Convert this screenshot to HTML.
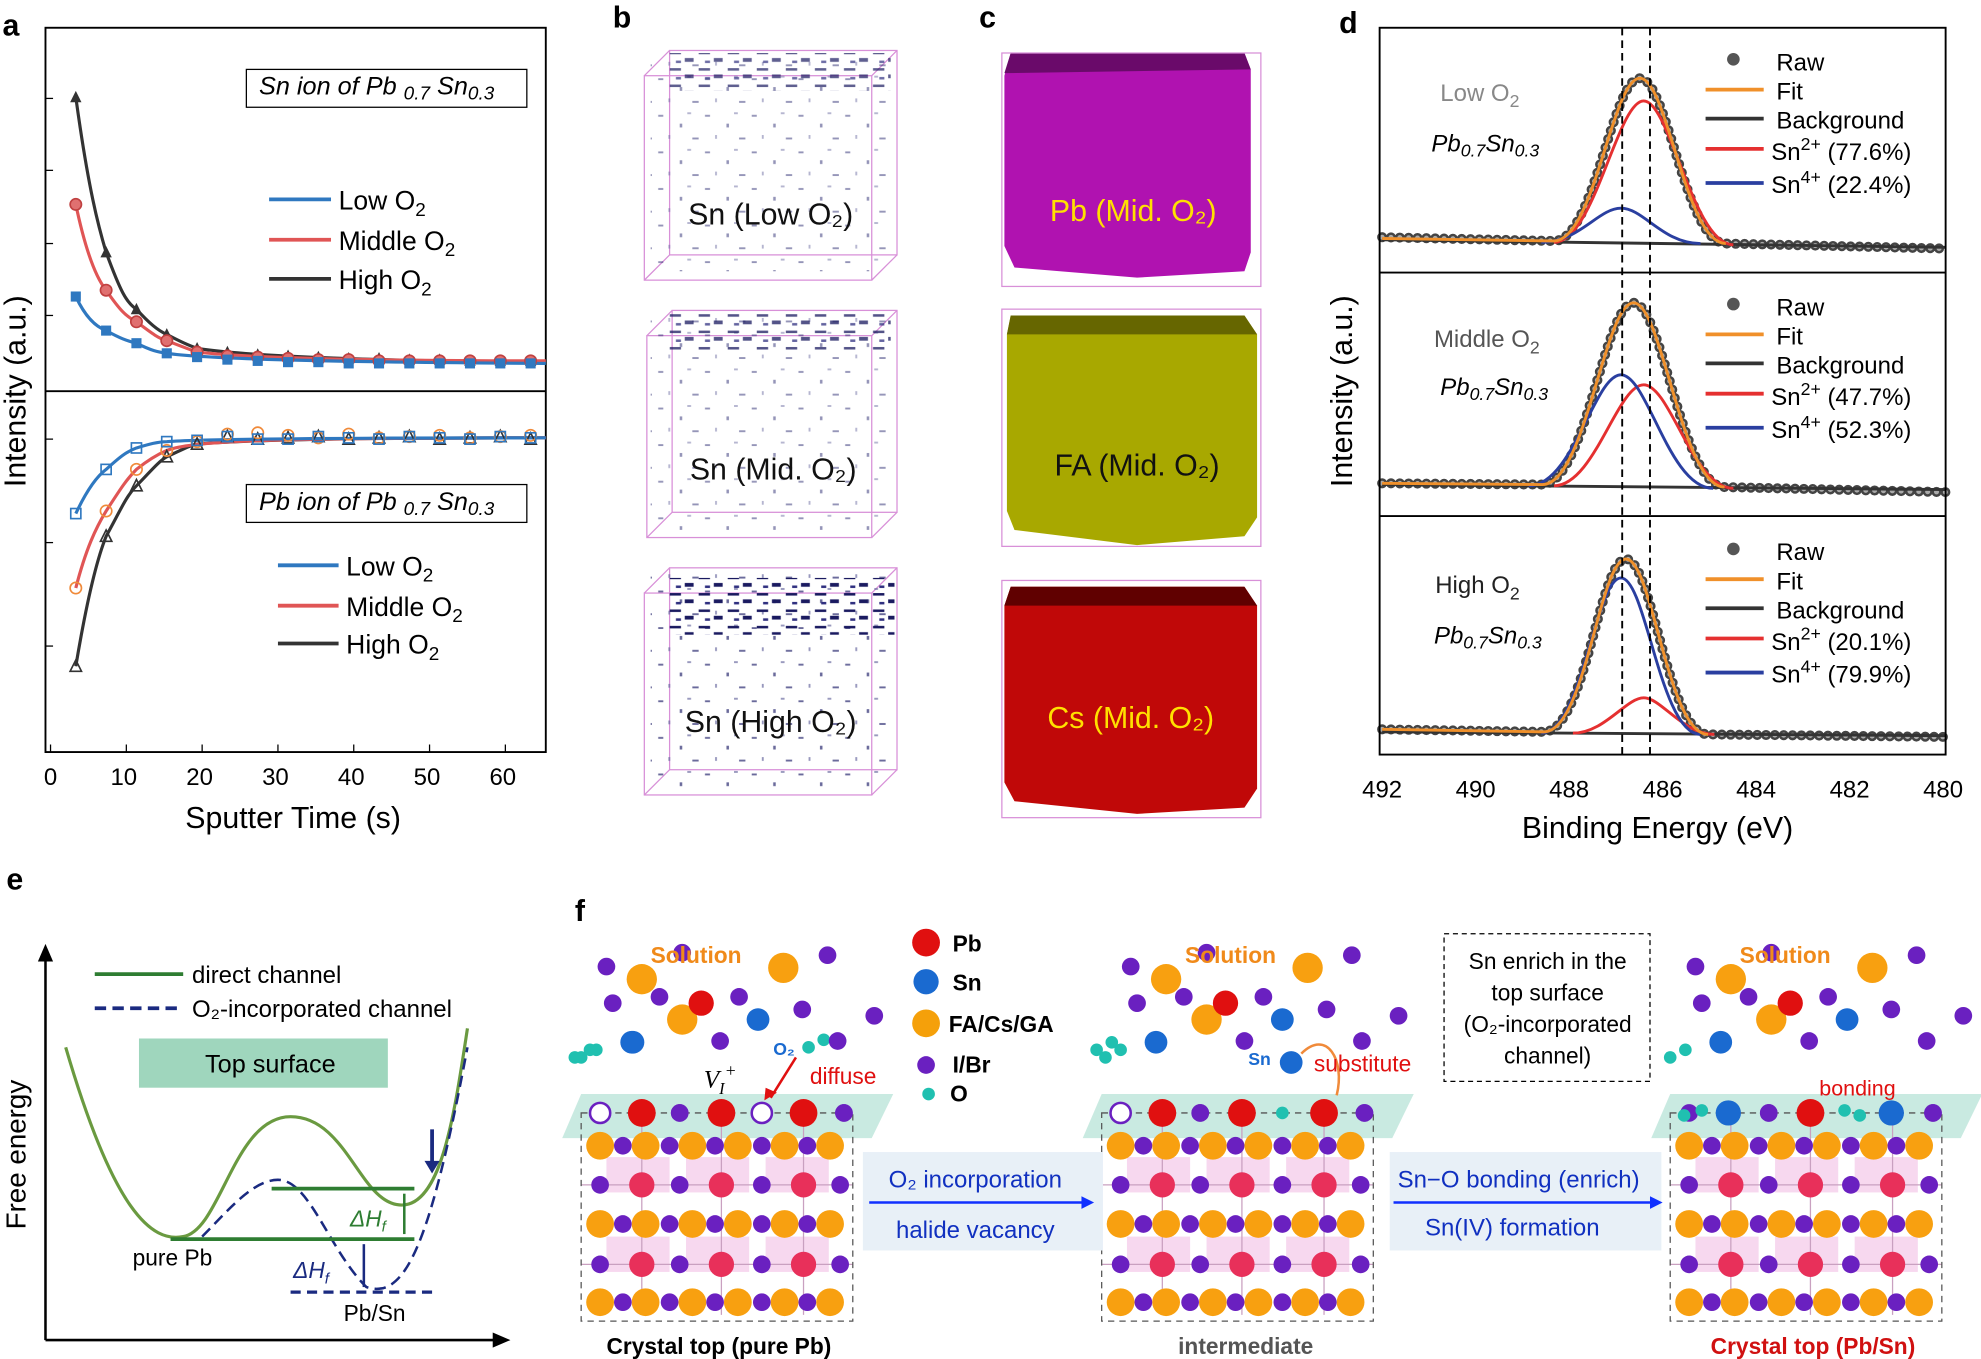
<!DOCTYPE html>
<html><head><meta charset="utf-8"><style>
html,body{margin:0;padding:0;background:#fff;}
svg{display:block;font-family:"Liberation Sans",sans-serif;}
</style></head><body>
<svg width="1981" height="1359" viewBox="0 0 1568 1077" preserveAspectRatio="none" xmlns="http://www.w3.org/2000/svg" xmlns:xlink="http://www.w3.org/1999/xlink">
<defs>
<rect id="sqb" x="-4" y="-4" width="8" height="8" fill="#2f78c0"/>
<circle id="cr" r="4.5" fill="#e07070" stroke="#c04040" stroke-width="1.3"/>
<polygon id="tk" points="-4.5,4 4.5,4 0,-5" fill="#333"/>
<rect id="sqo" x="-4" y="-4" width="8" height="8" fill="none" stroke="#2f78c0" stroke-width="1.3"/>
<circle id="co" r="4.5" fill="none" stroke="#f08a3a" stroke-width="1.3"/>
<polygon id="to" points="-4.5,4 4.5,4 0,-5" fill="none" stroke="#333" stroke-width="1.3"/>
<pattern id="dots" width="37" height="29" patternUnits="userSpaceOnUse">
<rect x="3" y="4" width="4" height="1.5" fill="#2a2a70"/><rect x="20" y="11" width="2" height="3" fill="#2a2a70"/><rect x="30" y="22" width="5" height="1.5" fill="#2a2a70"/><rect x="11" y="20" width="1.5" height="3" fill="#6a6aa0"/><rect x="26" y="2" width="3" height="1.5" fill="#6a6aa0"/>
</pattern>
<pattern id="dense" width="23" height="13" patternUnits="userSpaceOnUse">
<rect x="1" y="2" width="9" height="2" fill="#1a1a60"/><rect x="13" y="7" width="7" height="3" fill="#1a1a60"/><rect x="6" y="9" width="4" height="2" fill="#303080"/>
</pattern>
<g id="lat">
<rect x="20" y="35" width="50" height="28" fill="#f7d8ef"/><rect x="83" y="35" width="50" height="28" fill="#f7d8ef"/><rect x="146" y="35" width="50" height="28" fill="#f7d8ef"/>
<rect x="20" y="98" width="50" height="28" fill="#f7d8ef"/><rect x="83" y="98" width="50" height="28" fill="#f7d8ef"/><rect x="146" y="98" width="50" height="28" fill="#f7d8ef"/>
<g stroke="#c9a0c0" stroke-width="1"><line x1="48" y1="0" x2="48" y2="160"/><line x1="111" y1="0" x2="111" y2="160"/><line x1="176" y1="0" x2="176" y2="160"/><line x1="0" y1="57" x2="215" y2="57"/><line x1="0" y1="120" x2="215" y2="120"/></g>
<rect x="0" y="0" width="215" height="165" fill="none" stroke="#555" stroke-dasharray="5,4"/>
<g fill="#f8a010"><circle cx="15" cy="26" r="11"/><circle cx="51" cy="26" r="11"/><circle cx="88" cy="26" r="11"/><circle cx="124" cy="26" r="11"/><circle cx="161" cy="26" r="11"/><circle cx="197" cy="26" r="11"/>
<circle cx="15" cy="88" r="11"/><circle cx="51" cy="88" r="11"/><circle cx="88" cy="88" r="11"/><circle cx="124" cy="88" r="11"/><circle cx="161" cy="88" r="11"/><circle cx="197" cy="88" r="11"/>
<circle cx="15" cy="150" r="11"/><circle cx="51" cy="150" r="11"/><circle cx="88" cy="150" r="11"/><circle cx="124" cy="150" r="11"/><circle cx="161" cy="150" r="11"/><circle cx="197" cy="150" r="11"/></g>
<g fill="#6a20c0"><circle cx="33" cy="26" r="7"/><circle cx="70" cy="26" r="7"/><circle cx="106" cy="26" r="7"/><circle cx="143" cy="26" r="7"/><circle cx="179" cy="26" r="7"/>
<circle cx="33" cy="88" r="7"/><circle cx="70" cy="88" r="7"/><circle cx="106" cy="88" r="7"/><circle cx="143" cy="88" r="7"/><circle cx="179" cy="88" r="7"/>
<circle cx="33" cy="150" r="7"/><circle cx="70" cy="150" r="7"/><circle cx="106" cy="150" r="7"/><circle cx="143" cy="150" r="7"/><circle cx="179" cy="150" r="7"/>
<circle cx="15" cy="57" r="7"/><circle cx="78" cy="57" r="7"/><circle cx="143" cy="57" r="7"/><circle cx="205" cy="57" r="7"/>
<circle cx="15" cy="120" r="7"/><circle cx="78" cy="120" r="7"/><circle cx="143" cy="120" r="7"/><circle cx="205" cy="120" r="7"/>
<circle cx="78" cy="0" r="7"/><circle cx="208" cy="0" r="7"/></g>
<g fill="#e8305a"><circle cx="48" cy="57" r="10"/><circle cx="111" cy="57" r="10"/><circle cx="176" cy="57" r="10"/><circle cx="48" cy="120" r="10"/><circle cx="111" cy="120" r="10"/><circle cx="176" cy="120" r="10"/></g>
</g>
<g id="sol">
<g fill="#f8a010"><circle cx="48" cy="776" r="12"/><circle cx="160" cy="767" r="12"/><circle cx="80" cy="808" r="12"/></g>
<g fill="#6a20c0"><circle cx="20" cy="766" r="7"/><circle cx="80" cy="755" r="7"/><circle cx="125" cy="790" r="7"/><circle cx="195" cy="757" r="7"/><circle cx="62" cy="790" r="7"/><circle cx="175" cy="800" r="7"/><circle cx="25" cy="795" r="7"/><circle cx="110" cy="825" r="7"/><circle cx="203" cy="825" r="7"/><circle cx="232" cy="805" r="7"/></g>
<circle cx="95" cy="795" r="10" fill="#e01010"/>
<circle cx="140" cy="808" r="9" fill="#1a6ad0"/><circle cx="40" cy="826" r="9" fill="#1a6ad0"/>
<g fill="#20c0b0"><circle cx="0" cy="838" r="5"/><circle cx="12" cy="832" r="5"/></g>
</g>
</defs>
<g font-weight="bold" font-size="24"><text x="2" y="28">a</text><text x="485" y="22">b</text><text x="775" y="22">c</text><text x="1060" y="26">d</text><text x="5" y="705">e</text><text x="455" y="730">f</text></g>
<!-- panel a -->
<rect x="36" y="22" width="396" height="574" fill="none" stroke="#000" stroke-width="1.5"/>
<line x1="36" y1="310" x2="432" y2="310" stroke="#000" stroke-width="1.5"/>
<g stroke="#000"><line x1="40" y1="596" x2="40" y2="590"/><line x1="100" y1="596" x2="100" y2="590"/><line x1="160" y1="596" x2="160" y2="590"/><line x1="220" y1="596" x2="220" y2="590"/><line x1="280" y1="596" x2="280" y2="590"/><line x1="340" y1="596" x2="340" y2="590"/><line x1="400" y1="596" x2="400" y2="590"/>
<line x1="36" y1="78" x2="42" y2="78"/><line x1="36" y1="135" x2="42" y2="135"/><line x1="36" y1="193" x2="42" y2="193"/><line x1="36" y1="250" x2="42" y2="250"/>
<line x1="36" y1="348" x2="42" y2="348"/><line x1="36" y1="430" x2="42" y2="430"/><line x1="36" y1="512" x2="42" y2="512"/></g>
<g font-size="19" text-anchor="middle"><text x="40" y="622">0</text><text x="98" y="622">10</text><text x="158" y="622">20</text><text x="218" y="622">30</text><text x="278" y="622">40</text><text x="338" y="622">50</text><text x="398" y="622">60</text></g>
<text x="232" y="656" font-size="24" text-anchor="middle">Sputter Time (s)</text>
<text transform="translate(20,310) rotate(-90)" font-size="24" text-anchor="middle">Intensity (a.u.)</text>
<rect x="195" y="55" width="222" height="30" fill="#fff" stroke="#000"/>
<text x="205" y="75" font-size="20" font-style="italic">Sn ion of Pb <tspan font-size="15" dy="4">0.7</tspan><tspan dy="-4"> Sn</tspan><tspan font-size="15" dy="4">0.3</tspan></text>
<rect x="195" y="384" width="222" height="30" fill="#fff" stroke="#000"/>
<text x="205" y="404" font-size="20" font-style="italic">Pb ion of Pb <tspan font-size="15" dy="4">0.7</tspan><tspan dy="-4"> Sn</tspan><tspan font-size="15" dy="4">0.3</tspan></text>
<g font-size="21">
<line x1="213" y1="158" x2="262" y2="158" stroke="#2f78c0" stroke-width="3"/><text x="268" y="166">Low O<tspan font-size="15" dy="5">2</tspan></text>
<line x1="213" y1="190" x2="262" y2="190" stroke="#e05555" stroke-width="3"/><text x="268" y="198">Middle O<tspan font-size="15" dy="5">2</tspan></text>
<line x1="213" y1="221" x2="262" y2="221" stroke="#333" stroke-width="3"/><text x="268" y="229">High O<tspan font-size="15" dy="5">2</tspan></text>
<line x1="220" y1="448" x2="268" y2="448" stroke="#2f78c0" stroke-width="3"/><text x="274" y="456">Low O<tspan font-size="15" dy="5">2</tspan></text>
<line x1="220" y1="480" x2="268" y2="480" stroke="#e05555" stroke-width="3"/><text x="274" y="488">Middle O<tspan font-size="15" dy="5">2</tspan></text>
<line x1="220" y1="510" x2="268" y2="510" stroke="#333" stroke-width="3"/><text x="274" y="518">High O<tspan font-size="15" dy="5">2</tspan></text>
</g>
<g fill="none" stroke-width="2.5">
<path d="M60,77 C70,150 78,180 84,200 C95,230 100,240 108,245 C118,256 125,262 132,265 C145,272 150,274 156,276 C200,283 300,286 432,287" stroke="#333"/>
<path d="M60,162 C68,200 76,220 84,230 C95,246 100,251 108,255 C120,264 125,268 132,270 C145,275 150,277 156,279 C200,284 300,286 432,286" stroke="#e05555"/>
<path d="M60,235 C68,252 76,259 84,262 C95,268 100,270 108,272 C120,278 125,279 132,280 C160,284 250,287 432,288" stroke="#2f78c0"/>
<path d="M60,528 C68,480 76,445 84,425 C95,405 100,393 108,385 C118,375 125,366 132,362 C145,356 150,353 156,352 C200,348 300,347 432,347" stroke="#333"/>
<path d="M60,466 C68,435 76,418 84,405 C95,388 100,380 108,372 C118,364 125,360 132,357 C150,350 200,347 432,347" stroke="#e05555"/>
<path d="M60,407 C68,390 76,378 84,372 C95,362 100,358 108,355 C118,352 125,350 132,350 C160,348 250,347 432,347" stroke="#2f78c0"/>
</g>
<use xlink:href="#tk" x="60" y="77"/><use xlink:href="#tk" x="84" y="200"/><use xlink:href="#tk" x="108" y="245"/><use xlink:href="#tk" x="132" y="265"/><use xlink:href="#tk" x="156" y="276"/><use xlink:href="#tk" x="180" y="279"/><use xlink:href="#tk" x="204" y="281"/><use xlink:href="#tk" x="228" y="282"/><use xlink:href="#tk" x="252" y="283"/><use xlink:href="#tk" x="276" y="284"/><use xlink:href="#tk" x="300" y="284"/><use xlink:href="#tk" x="324" y="285"/><use xlink:href="#tk" x="348" y="285"/><use xlink:href="#tk" x="372" y="286"/><use xlink:href="#tk" x="396" y="286"/><use xlink:href="#tk" x="420" y="286"/>
<use xlink:href="#cr" x="60" y="162"/><use xlink:href="#cr" x="84" y="230"/><use xlink:href="#cr" x="108" y="255"/><use xlink:href="#cr" x="132" y="270"/><use xlink:href="#cr" x="156" y="279"/><use xlink:href="#cr" x="180" y="282"/><use xlink:href="#cr" x="204" y="283"/><use xlink:href="#cr" x="228" y="284"/><use xlink:href="#cr" x="252" y="285"/><use xlink:href="#cr" x="276" y="285"/><use xlink:href="#cr" x="300" y="286"/><use xlink:href="#cr" x="324" y="286"/><use xlink:href="#cr" x="348" y="286"/><use xlink:href="#cr" x="372" y="286"/><use xlink:href="#cr" x="396" y="286"/><use xlink:href="#cr" x="420" y="286"/>
<use xlink:href="#sqb" x="60" y="235"/><use xlink:href="#sqb" x="84" y="262"/><use xlink:href="#sqb" x="108" y="272"/><use xlink:href="#sqb" x="132" y="280"/><use xlink:href="#sqb" x="156" y="283"/><use xlink:href="#sqb" x="180" y="285"/><use xlink:href="#sqb" x="204" y="286"/><use xlink:href="#sqb" x="228" y="287"/><use xlink:href="#sqb" x="252" y="287"/><use xlink:href="#sqb" x="276" y="288"/><use xlink:href="#sqb" x="300" y="288"/><use xlink:href="#sqb" x="324" y="288"/><use xlink:href="#sqb" x="348" y="288"/><use xlink:href="#sqb" x="372" y="288"/><use xlink:href="#sqb" x="396" y="288"/><use xlink:href="#sqb" x="420" y="288"/>
<use xlink:href="#to" x="60" y="528"/><use xlink:href="#to" x="84" y="425"/><use xlink:href="#to" x="108" y="385"/><use xlink:href="#to" x="132" y="362"/><use xlink:href="#to" x="156" y="352"/><use xlink:href="#to" x="180" y="346"/><use xlink:href="#to" x="204" y="348"/><use xlink:href="#to" x="228" y="347"/><use xlink:href="#to" x="252" y="346"/><use xlink:href="#to" x="276" y="348"/><use xlink:href="#to" x="300" y="347"/><use xlink:href="#to" x="324" y="346"/><use xlink:href="#to" x="348" y="348"/><use xlink:href="#to" x="372" y="347"/><use xlink:href="#to" x="396" y="346"/><use xlink:href="#to" x="420" y="348"/>
<use xlink:href="#co" x="60" y="466"/><use xlink:href="#co" x="84" y="405"/><use xlink:href="#co" x="108" y="372"/><use xlink:href="#co" x="132" y="357"/><use xlink:href="#co" x="156" y="350"/><use xlink:href="#co" x="180" y="344"/><use xlink:href="#co" x="204" y="343"/><use xlink:href="#co" x="228" y="345"/><use xlink:href="#co" x="252" y="347"/><use xlink:href="#co" x="276" y="344"/><use xlink:href="#co" x="300" y="347"/><use xlink:href="#co" x="324" y="346"/><use xlink:href="#co" x="348" y="345"/><use xlink:href="#co" x="372" y="347"/><use xlink:href="#co" x="396" y="346"/><use xlink:href="#co" x="420" y="345"/>
<use xlink:href="#sqo" x="60" y="407"/><use xlink:href="#sqo" x="84" y="372"/><use xlink:href="#sqo" x="108" y="355"/><use xlink:href="#sqo" x="132" y="350"/><use xlink:href="#sqo" x="156" y="349"/><use xlink:href="#sqo" x="180" y="346"/><use xlink:href="#sqo" x="204" y="348"/><use xlink:href="#sqo" x="228" y="348"/><use xlink:href="#sqo" x="252" y="346"/><use xlink:href="#sqo" x="276" y="347"/><use xlink:href="#sqo" x="300" y="348"/><use xlink:href="#sqo" x="324" y="346"/><use xlink:href="#sqo" x="348" y="347"/><use xlink:href="#sqo" x="372" y="348"/><use xlink:href="#sqo" x="396" y="346"/><use xlink:href="#sqo" x="420" y="347"/>
<!-- panel b -->
<g fill="none" stroke="#d890d8" stroke-width="1">
<rect x="510" y="60" width="180" height="162"/><rect x="530" y="40" width="180" height="162"/><line x1="510" y1="60" x2="530" y2="40"/><line x1="690" y1="60" x2="710" y2="40"/><line x1="510" y1="222" x2="530" y2="202"/><line x1="690" y1="222" x2="710" y2="202"/>
<rect x="512" y="266" width="178" height="160"/><rect x="532" y="246" width="178" height="160"/><line x1="512" y1="266" x2="532" y2="246"/><line x1="690" y1="266" x2="710" y2="246"/><line x1="512" y1="426" x2="532" y2="406"/><line x1="690" y1="426" x2="710" y2="406"/>
<rect x="510" y="470" width="180" height="160"/><rect x="530" y="450" width="180" height="160"/><line x1="510" y1="470" x2="530" y2="450"/><line x1="690" y1="470" x2="710" y2="450"/><line x1="510" y1="630" x2="530" y2="610"/><line x1="690" y1="630" x2="710" y2="610"/>
</g>
<rect x="515" y="45" width="190" height="170" fill="url(#dots)" opacity="0.5"/>
<rect x="530" y="42" width="175" height="30" fill="url(#dense)" opacity="0.7"/>
<rect x="515" y="250" width="190" height="170" fill="url(#dots)" opacity="0.5"/>
<rect x="530" y="248" width="175" height="30" fill="url(#dense)" opacity="0.75"/>
<rect x="515" y="455" width="190" height="170" fill="url(#dots)" opacity="0.7"/>
<rect x="530" y="458" width="178" height="45" fill="url(#dense)"/>
<g font-size="24" text-anchor="middle" fill="#111"><text x="610" y="178">Sn (Low O₂)</text><text x="612" y="380">Sn (Mid. O₂)</text><text x="610" y="580">Sn (High O₂)</text></g>
<!-- panel c -->
<polygon points="800,42 985,42 990,55 990,200 985,215 900,220 803,212 795,195 795,60" fill="#b012b0"/>
<polygon points="800,42 985,42 990,55 795,58" fill="#6a0a6a"/>
<polygon points="800,250 985,250 995,265 995,410 985,425 900,432 803,420 797,405 797,265" fill="#a8a800"/>
<polygon points="800,250 985,250 995,265 797,265" fill="#666600"/>
<polygon points="800,465 985,465 995,480 995,625 985,640 900,645 803,635 795,620 795,480" fill="#c00808"/>
<polygon points="800,465 985,465 995,480 795,480" fill="#600000"/>
<g fill="none" stroke="#d890d8" stroke-width="1"><rect x="793" y="42" width="205" height="185"/><rect x="793" y="245" width="205" height="188"/><rect x="793" y="460" width="205" height="188"/></g>
<g font-size="24" text-anchor="middle"><text x="897" y="175" fill="#ffe000">Pb (Mid. O₂)</text><text x="900" y="377" fill="#111">FA (Mid. O₂)</text><text x="895" y="577" fill="#ffe000">Cs (Mid. O₂)</text></g>
<!-- panel d -->
<g fill="none" stroke-linecap="round">
<path d="M1094,188 L1230,191 C1262,191 1276,62 1298,62 C1320,62 1334,193 1366,193 L1540,197" stroke="#444" stroke-width="8" stroke-dasharray="0,7"/>
<path d="M1094,188 L1230,191 C1262,191 1276,62 1298,62 C1320,62 1334,193 1366,193 L1540,197" stroke="#aaa" stroke-width="4" stroke-dasharray="0,7"/>
<path d="M1094,383 L1221,384 C1255,384 1270,240 1293,240 C1316,240 1331,386 1365,386 L1540,390" stroke="#444" stroke-width="8" stroke-dasharray="0,7"/>
<path d="M1094,383 L1221,384 C1255,384 1270,240 1293,240 C1316,240 1331,386 1365,386 L1540,390" stroke="#aaa" stroke-width="4" stroke-dasharray="0,7"/>
<path d="M1094,578 L1222,580 C1255,580 1266,443 1287,443 C1308,443 1320,582 1352,582 L1540,584" stroke="#444" stroke-width="8" stroke-dasharray="0,7"/>
<path d="M1094,578 L1222,580 C1255,580 1266,443 1287,443 C1308,443 1320,582 1352,582 L1540,584" stroke="#aaa" stroke-width="4" stroke-dasharray="0,7"/>
</g>
<g fill="none" stroke-width="2.3">
<path d="M1094,190 L1540,196" stroke="#333"/><path d="M1094,384 L1540,388" stroke="#333"/><path d="M1094,580 L1540,583" stroke="#333"/>
<path d="M1230,192 C1262,192 1280,80 1301,80 C1322,80 1340,194 1372,194" stroke="#e53030"/>
<path d="M1220,192 C1250,192 1265,165 1283,165 C1301,165 1316,193 1346,193" stroke="#2a3fa0"/>
<path d="M1094,189 L1230,191 C1262,191 1276,62 1298,62 C1320,62 1334,193 1366,193" stroke="#f0902a"/>
<path d="M1230,385 C1262,385 1280,305 1301,305 C1322,305 1340,387 1372,387" stroke="#e53030"/>
<path d="M1210,385 C1245,385 1262,297 1283,297 C1304,297 1321,387 1356,387" stroke="#2a3fa0"/>
<path d="M1094,383 L1221,384 C1255,384 1270,240 1293,240 C1316,240 1331,386 1365,386" stroke="#f0902a"/>
<path d="M1245,581 C1270,581 1287,553 1301,553 C1315,553 1332,582 1357,582" stroke="#e53030"/>
<path d="M1220,581 C1252,581 1263,458 1283,458 C1303,458 1314,582 1346,582" stroke="#2a3fa0"/>
<path d="M1094,578 L1222,580 C1255,580 1266,443 1287,443 C1308,443 1320,582 1352,582" stroke="#f0902a"/>
</g>
<rect x="1092" y="22" width="448" height="576" fill="none" stroke="#000" stroke-width="1.5"/>
<line x1="1092" y1="216" x2="1540" y2="216" stroke="#000" stroke-width="1.5"/>
<line x1="1092" y1="409" x2="1540" y2="409" stroke="#000" stroke-width="1.5"/>
<line x1="1284" y1="22" x2="1284" y2="598" stroke="#000" stroke-dasharray="6,4" stroke-width="1.5"/>
<line x1="1306" y1="22" x2="1306" y2="598" stroke="#000" stroke-dasharray="6,4" stroke-width="1.5"/>
<g font-size="19">
<circle cx="1372" cy="47" r="5" fill="#555"/><text x="1406" y="56">Raw</text>
<line x1="1350" y1="71" x2="1396" y2="71" stroke="#f0902a" stroke-width="3"/><text x="1406" y="79">Fit</text>
<line x1="1350" y1="94" x2="1396" y2="94" stroke="#333" stroke-width="3"/><text x="1406" y="102">Background</text>
<line x1="1350" y1="118" x2="1396" y2="118" stroke="#e53030" stroke-width="3"/><text x="1402" y="127">Sn<tspan font-size="14" dy="-8">2+</tspan><tspan dy="8"> (77.6%)</tspan></text>
<line x1="1350" y1="145" x2="1396" y2="145" stroke="#2a3fa0" stroke-width="3"/><text x="1402" y="153">Sn<tspan font-size="14" dy="-8">4+</tspan><tspan dy="8"> (22.4%)</tspan></text>
<circle cx="1372" cy="241" r="5" fill="#555"/><text x="1406" y="250">Raw</text>
<line x1="1350" y1="265" x2="1396" y2="265" stroke="#f0902a" stroke-width="3"/><text x="1406" y="273">Fit</text>
<line x1="1350" y1="288" x2="1396" y2="288" stroke="#333" stroke-width="3"/><text x="1406" y="296">Background</text>
<line x1="1350" y1="312" x2="1396" y2="312" stroke="#e53030" stroke-width="3"/><text x="1402" y="321">Sn<tspan font-size="14" dy="-8">2+</tspan><tspan dy="8"> (47.7%)</tspan></text>
<line x1="1350" y1="339" x2="1396" y2="339" stroke="#2a3fa0" stroke-width="3"/><text x="1402" y="347">Sn<tspan font-size="14" dy="-8">4+</tspan><tspan dy="8"> (52.3%)</tspan></text>
<circle cx="1372" cy="435" r="5" fill="#555"/><text x="1406" y="444">Raw</text>
<line x1="1350" y1="459" x2="1396" y2="459" stroke="#f0902a" stroke-width="3"/><text x="1406" y="467">Fit</text>
<line x1="1350" y1="482" x2="1396" y2="482" stroke="#333" stroke-width="3"/><text x="1406" y="490">Background</text>
<line x1="1350" y1="506" x2="1396" y2="506" stroke="#e53030" stroke-width="3"/><text x="1402" y="515">Sn<tspan font-size="14" dy="-8">2+</tspan><tspan dy="8"> (20.1%)</tspan></text>
<line x1="1350" y1="533" x2="1396" y2="533" stroke="#2a3fa0" stroke-width="3"/><text x="1402" y="541">Sn<tspan font-size="14" dy="-8">4+</tspan><tspan dy="8"> (79.9%)</tspan></text>
<text x="1140" y="80" fill="#888">Low O<tspan font-size="14" dy="5">2</tspan></text>
<text x="1135" y="275" fill="#555">Middle O<tspan font-size="14" dy="5">2</tspan></text>
<text x="1136" y="470" fill="#222">High O<tspan font-size="14" dy="5">2</tspan></text>
<text x="1133" y="120" font-style="italic">Pb<tspan font-size="14" dy="4">0.7</tspan><tspan dy="-4">Sn</tspan><tspan font-size="14" dy="4">0.3</tspan></text>
<text x="1140" y="313" font-style="italic">Pb<tspan font-size="14" dy="4">0.7</tspan><tspan dy="-4">Sn</tspan><tspan font-size="14" dy="4">0.3</tspan></text>
<text x="1135" y="510" font-style="italic">Pb<tspan font-size="14" dy="4">0.7</tspan><tspan dy="-4">Sn</tspan><tspan font-size="14" dy="4">0.3</tspan></text>
</g>
<g font-size="19" text-anchor="middle"><text x="1094" y="632">492</text><text x="1168" y="632">490</text><text x="1242" y="632">488</text><text x="1316" y="632">486</text><text x="1390" y="632">484</text><text x="1464" y="632">482</text><text x="1538" y="632">480</text></g>
<text x="1312" y="664" font-size="24" text-anchor="middle">Binding Energy (eV)</text>
<text transform="translate(1070,310) rotate(-90)" font-size="24" text-anchor="middle">Intensity (a.u.)</text>
<!-- panel e -->
<line x1="36" y1="1062" x2="36" y2="760" stroke="#000" stroke-width="2"/><polygon points="30,762 42,762 36,748" fill="#000"/>
<line x1="36" y1="1062" x2="392" y2="1062" stroke="#000" stroke-width="2"/><polygon points="390,1056 390,1068 404,1062" fill="#000"/>
<text transform="translate(20,915) rotate(-90)" font-size="22" text-anchor="middle">Free energy</text>
<line x1="75" y1="772" x2="145" y2="772" stroke="#2e7d32" stroke-width="3"/><text x="152" y="779" font-size="19">direct channel</text>
<line x1="75" y1="799" x2="145" y2="799" stroke="#1a2a80" stroke-width="3" stroke-dasharray="9,5"/><text x="152" y="806" font-size="19">O₂-incorporated channel</text>
<rect x="110" y="823" width="197" height="39" fill="#9fd6bd"/><text x="214" y="850" font-size="20" text-anchor="middle">Top surface</text>
<path d="M52,830 C90,960 120,985 145,980 C175,975 185,885 230,885 C275,885 285,955 318,955 C350,955 360,880 370,815" fill="none" stroke="#6a9a40" stroke-width="2.5"/>
<path d="M160,980 C180,960 200,935 220,935 C245,935 260,990 290,1020 C320,1030 340,990 370,830" fill="none" stroke="#1a2a80" stroke-width="2" stroke-dasharray="9,5"/>
<line x1="135" y1="982" x2="328" y2="982" stroke="#2e7d32" stroke-width="3"/>
<line x1="215" y1="942" x2="328" y2="942" stroke="#2e7d32" stroke-width="3"/>
<line x1="230" y1="1024" x2="345" y2="1024" stroke="#1a2a80" stroke-width="2.5" stroke-dasharray="8,5"/>
<line x1="320" y1="946" x2="320" y2="978" stroke="#2e7d32" stroke-width="2"/>
<line x1="288" y1="986" x2="288" y2="1020" stroke="#1a2a80" stroke-width="2"/>
<line x1="342" y1="895" x2="342" y2="925" stroke="#1a2a80" stroke-width="3"/><polygon points="336,920 348,920 342,930" fill="#1a2a80"/>
<text x="277" y="972" font-size="18" fill="#2e7d32" font-style="italic">ΔH<tspan font-size="12" dy="4">f</tspan></text>
<text x="232" y="1013" font-size="18" fill="#1a2a80" font-style="italic">ΔH<tspan font-size="12" dy="4">f</tspan></text>
<text x="105" y="1003" font-size="18">pure Pb</text><text x="272" y="1047" font-size="18">Pb/Sn</text>
<!-- panel f -->
<polygon points="445,902 690,902 707,867 460,867" fill="#bfe6dc" opacity="0.85"/>
<polygon points="857,902 1102,902 1119,867 872,867" fill="#bfe6dc" opacity="0.85"/>
<polygon points="1307,902 1552,902 1569,867 1322,867" fill="#bfe6dc" opacity="0.85"/>
<use xlink:href="#lat" x="460" y="882"/><use xlink:href="#lat" x="872" y="882"/><use xlink:href="#lat" x="1322" y="882"/>
<g fill="#e01010"><circle cx="508" cy="882" r="11"/><circle cx="571" cy="882" r="11"/><circle cx="636" cy="882" r="11"/>
<circle cx="920" cy="882" r="11"/><circle cx="983" cy="882" r="11"/><circle cx="1048" cy="882" r="11"/>
<circle cx="1433" cy="882" r="11"/></g>
<g fill="#6a20c0"><circle cx="538" cy="882" r="7"/><circle cx="668" cy="882" r="7"/><circle cx="950" cy="882" r="7"/><circle cx="1080" cy="882" r="7"/><circle cx="1400" cy="882" r="7"/><circle cx="1530" cy="882" r="7"/><circle cx="1337" cy="882" r="7"/></g>
<g fill="#fff" stroke="#6a20c0" stroke-width="2"><circle cx="475" cy="882" r="8"/><circle cx="603" cy="882" r="8"/><circle cx="887" cy="882" r="8"/></g>
<g fill="#1a6ad0"><circle cx="1368" cy="882" r="10"/><circle cx="1497" cy="882" r="10"/><circle cx="1022" cy="842" r="9"/><circle cx="501" cy="826" r="9"/></g>
<g fill="#20c0b0"><circle cx="1333" cy="884" r="5"/><circle cx="1347" cy="880" r="5"/><circle cx="1460" cy="880" r="5"/><circle cx="1472" cy="884" r="5"/><circle cx="1015" cy="882" r="5"/><circle cx="640" cy="830" r="5"/><circle cx="652" cy="824" r="5"/><circle cx="455" cy="838" r="5"/><circle cx="467" cy="832" r="5"/><circle cx="868" cy="832" r="5"/><circle cx="880" cy="826" r="5"/></g>
<use xlink:href="#sol" x="460" y="0"/><use xlink:href="#sol" x="875" y="0"/><use xlink:href="#sol" x="1322" y="0"/>
<line x1="630" y1="838" x2="610" y2="870" stroke="#e01010" stroke-width="2"/><polygon points="605,872 615,866 606,862" fill="#e01010"/>
<path d="M1030,835 C1050,815 1065,840 1058,868" fill="none" stroke="#f08a3a" stroke-width="2"/>
<g font-size="18">
<text x="515" y="763" fill="#f08a1a" font-weight="bold">Solution</text>
<text x="938" y="763" fill="#f08a1a" font-weight="bold">Solution</text>
<text x="1377" y="763" fill="#f08a1a" font-weight="bold">Solution</text>
<circle cx="733" cy="747" r="11" fill="#e01010"/><text x="754" y="754" font-weight="bold">Pb</text>
<circle cx="733" cy="778" r="10" fill="#1a6ad0"/><text x="754" y="785" font-weight="bold">Sn</text>
<circle cx="733" cy="811" r="11" fill="#f5a00a"/><text x="751" y="818" font-weight="bold">FA/Cs/GA</text>
<circle cx="733" cy="844" r="7" fill="#6a20c0"/><text x="754" y="850" font-weight="bold">I/Br</text>
<circle cx="735" cy="867" r="5" fill="#20c0b0"/><text x="752" y="873" font-weight="bold">O</text>
<rect x="1143" y="740" width="163" height="117" fill="none" stroke="#000" stroke-dasharray="4,3"/>
<text x="1225" y="768" text-anchor="middle">Sn enrich in the</text>
<text x="1225" y="793" text-anchor="middle">top surface</text>
<text x="1225" y="818" text-anchor="middle">(O₂-incorporated</text>
<text x="1225" y="843" text-anchor="middle">channel)</text>
<rect x="683" y="913" width="190" height="78" fill="#e8f0f7"/>
<text x="772" y="941" fill="#1030c0" text-anchor="middle" font-size="19">O₂ incorporation</text>
<line x1="688" y1="953" x2="860" y2="953" stroke="#1030ff" stroke-width="2"/><polygon points="856,948 866,953 856,958" fill="#1030ff"/>
<text x="772" y="981" fill="#1030c0" text-anchor="middle" font-size="19">halide vacancy</text>
<rect x="1100" y="913" width="215" height="78" fill="#e8f0f7"/>
<text x="1202" y="941" fill="#1030c0" text-anchor="middle" font-size="19">Sn−O bonding (enrich)</text>
<line x1="1103" y1="953" x2="1310" y2="953" stroke="#1030ff" stroke-width="2"/><polygon points="1306,948 1316,953 1306,958" fill="#1030ff"/>
<text x="1197" y="979" fill="#1030c0" text-anchor="middle" font-size="19">Sn(IV) formation</text>
<text x="569" y="1073" text-anchor="middle" font-weight="bold">Crystal top (pure Pb)</text>
<text x="986" y="1073" text-anchor="middle" font-weight="bold" fill="#555">intermediate</text>
<text x="1435" y="1073" text-anchor="middle" font-weight="bold" fill="#d01010">Crystal top (Pb/Sn)</text>
<text x="641" y="859" fill="#e01010">diffuse</text>
<text x="1040" y="849" fill="#e01010">substitute</text>
<text x="1440" y="868" fill="#e01010" font-size="17">bonding</text>
<text x="557" y="862" font-style="italic" font-family="Liberation Serif" font-size="20">V<tspan font-size="13" dy="5">I</tspan><tspan font-size="14" dy="-14">+</tspan></text>
<text x="612" y="836" fill="#1a6ad0" font-size="14" font-weight="bold">O₂</text>
<text x="988" y="844" fill="#1a6ad0" font-size="14" font-weight="bold">Sn</text>
</g>
</svg>
</body></html>
